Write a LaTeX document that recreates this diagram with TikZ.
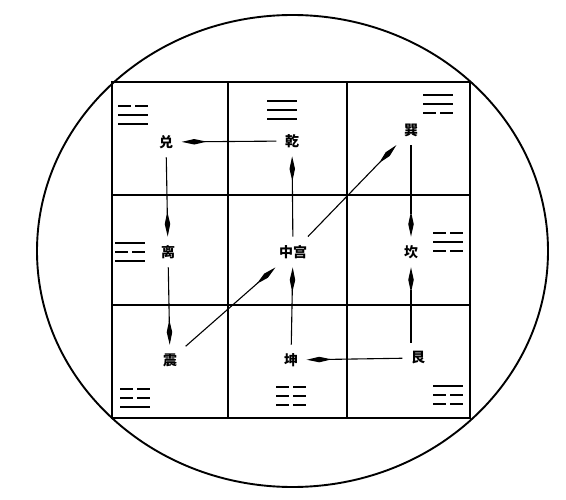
\documentclass[tikz,border=0pt]{standalone}
\usepackage{fontspec}
\newfontfamily\cjk{Noto Sans CJK SC}
\usetikzlibrary{calc}
\usetikzlibrary{arrows.meta}

\tikzset{
  gong/.style={font=\cjk\bfseries\fontsize{14}{14}\selectfont, inner sep=8.5pt},
  fly/.style={line width=1.1pt, -{Kite[length=25pt, width=5.5pt, inset=12.5pt]}},
  yao/.style={line width=2pt},
  ge/.style={line width=2.1pt}
}

% trigram: left x, top y, lines from top (1 solid, 0 broken)
\newcommand{\gua}[3]{%
  \foreach \b [count=\i] in {#3} {
    \ifnum\b=1
      \draw[yao] ($(#1,#2)+(0,9*\i-9)$) --++(30,0);
    \else
      \draw[yao] ($(#1,#2)+(0,9*\i-9)$) --++(13,0) ++(4,0) --++(13,0);
    \fi
  }%
}

\begin{document}
\begin{tikzpicture}[x=1pt, y=-1pt]
\useasboundingbox (0,0) rectangle (566,500);

\draw[line width=1.9pt] (292.5,251) ellipse [x radius=255.5, y radius=236];

\draw[ge] (112,82) rectangle (470,418);
\foreach \x in {228, 347} \draw[ge] (\x,82) -- (\x,418);
\foreach \y in {195, 305} \draw[ge] (112,\y) -- (470,\y);

\gua{118}{106}{0,1,1}
\gua{267}{101}{1,1,1}
\gua{423}{95}{1,1,0}
\gua{115}{243}{1,0,1}
\gua{433}{233}{0,1,0}
\gua{120}{389}{0,0,1}
\gua{276}{387}{0,0,0}
\gua{433}{386}{1,0,0}

\node[gong] (dui) at (166,142) {兑};
\node[gong] (qian) at (292,141) {乾};
\node[gong] (xun) at (411,130) {巽};
\node[gong] (li) at (168,252) {离};
\node[gong] (zhong) at (293,252) {中宫};
\node[gong] (kan) at (411,252) {坎};
\node[gong] (zhen) at (170,360) {震};
\node[gong] (kun) at (291,360) {坤};
\node[gong] (gen) at (418,358) {艮};

\draw[fly] (qian) -- (dui);
\draw[fly] (dui) -- (li);
\draw[fly] (li) -- (zhen);
\draw[fly] (zhen) -- (zhong);
\draw[fly] (zhong) -- (xun);
\draw[fly] (xun) -- (kan);
\draw[fly] (gen.north -| kan) -- (kan);
\draw[fly] (gen) -- (kun);
\draw[fly] (kun) -- (zhong);
\draw[fly] (zhong) -- (qian);

\end{tikzpicture}
\end{document}
